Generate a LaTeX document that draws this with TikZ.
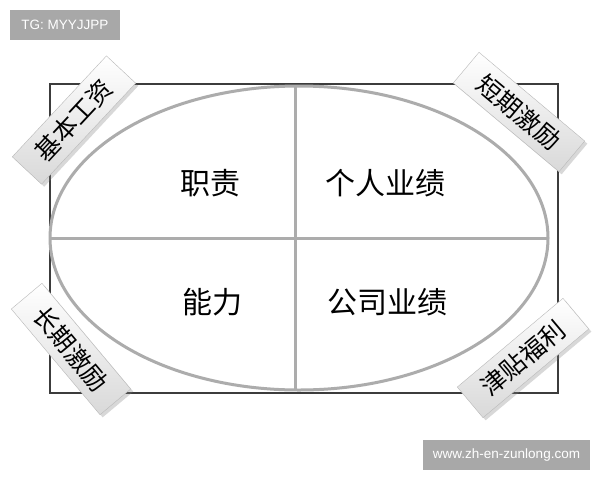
\documentclass[tikz,border=0pt]{standalone}
\usepackage{fontspec}
\setmainfont{Liberation Sans}
\newfontfamily\cjk{Noto Sans CJK SC}
\usetikzlibrary{shadows}
\definecolor{linegray}{RGB}{172,172,172}
\definecolor{markgray}{RGB}{168,168,168}
\definecolor{framegray}{RGB}{60,60,60}

\tikzset{
  cornerlabel/.style={draw=gray!55, top color=white, bottom color=gray!30,
    minimum width=138pt, minimum height=40pt, inner sep=0pt,
    font=\cjk\fontsize{25}{25}\selectfont, drop shadow={opacity=0.3}},
  celltext/.style={font=\cjk\fontsize{30}{30}\selectfont},
  watermark/.style={fill=markgray, text=white, inner sep=0pt,
    minimum height=30pt, font=\fontsize{13.5}{13.5}\selectfont}
}

\begin{document}
\begin{tikzpicture}[x=1pt,y=-1pt]
    \useasboundingbox[fill=white] (0,0) rectangle (600,480);

    % Cadre
    \draw[framegray, line width=1.2pt] (50,84) rectangle (558,393);

    % Ellipse et croix
    \draw[linegray, line width=3pt] (299,238) ellipse [x radius=249, y radius=152];
    \draw[linegray, line width=3pt] (50,238) -- (548,238);
    \draw[linegray, line width=3pt] (295,86) -- (295,390);

    % Quadrants
    \node[celltext] (zhize) at (210,183) {职责};
    \node[celltext] (geren) at (385,183) {个人业绩};
    \node[celltext] (nengli) at (212,302) {能力};
    \node[celltext] (gongsi) at (387,302) {公司业绩};

    % Etiquettes des coins
    \node[cornerlabel, rotate=47] (jiben) at (74,120) {基本工资};
    \node[cornerlabel, rotate=-40] (duanqi) at (519,112) {短期激励};
    \node[cornerlabel, rotate=-50] (changqi) at (71,349) {长期激励};
    \node[cornerlabel, rotate=40] (jintie) at (523,358) {津贴福利};

    % Filigranes
    \node[watermark, minimum width=110pt] (tg) at (65,25) {TG: MYYJJPP};
    \node[watermark, minimum width=167pt] (site) at (506.5,455) {www.zh-en-zunlong.com};
\end{tikzpicture}
\end{document}
